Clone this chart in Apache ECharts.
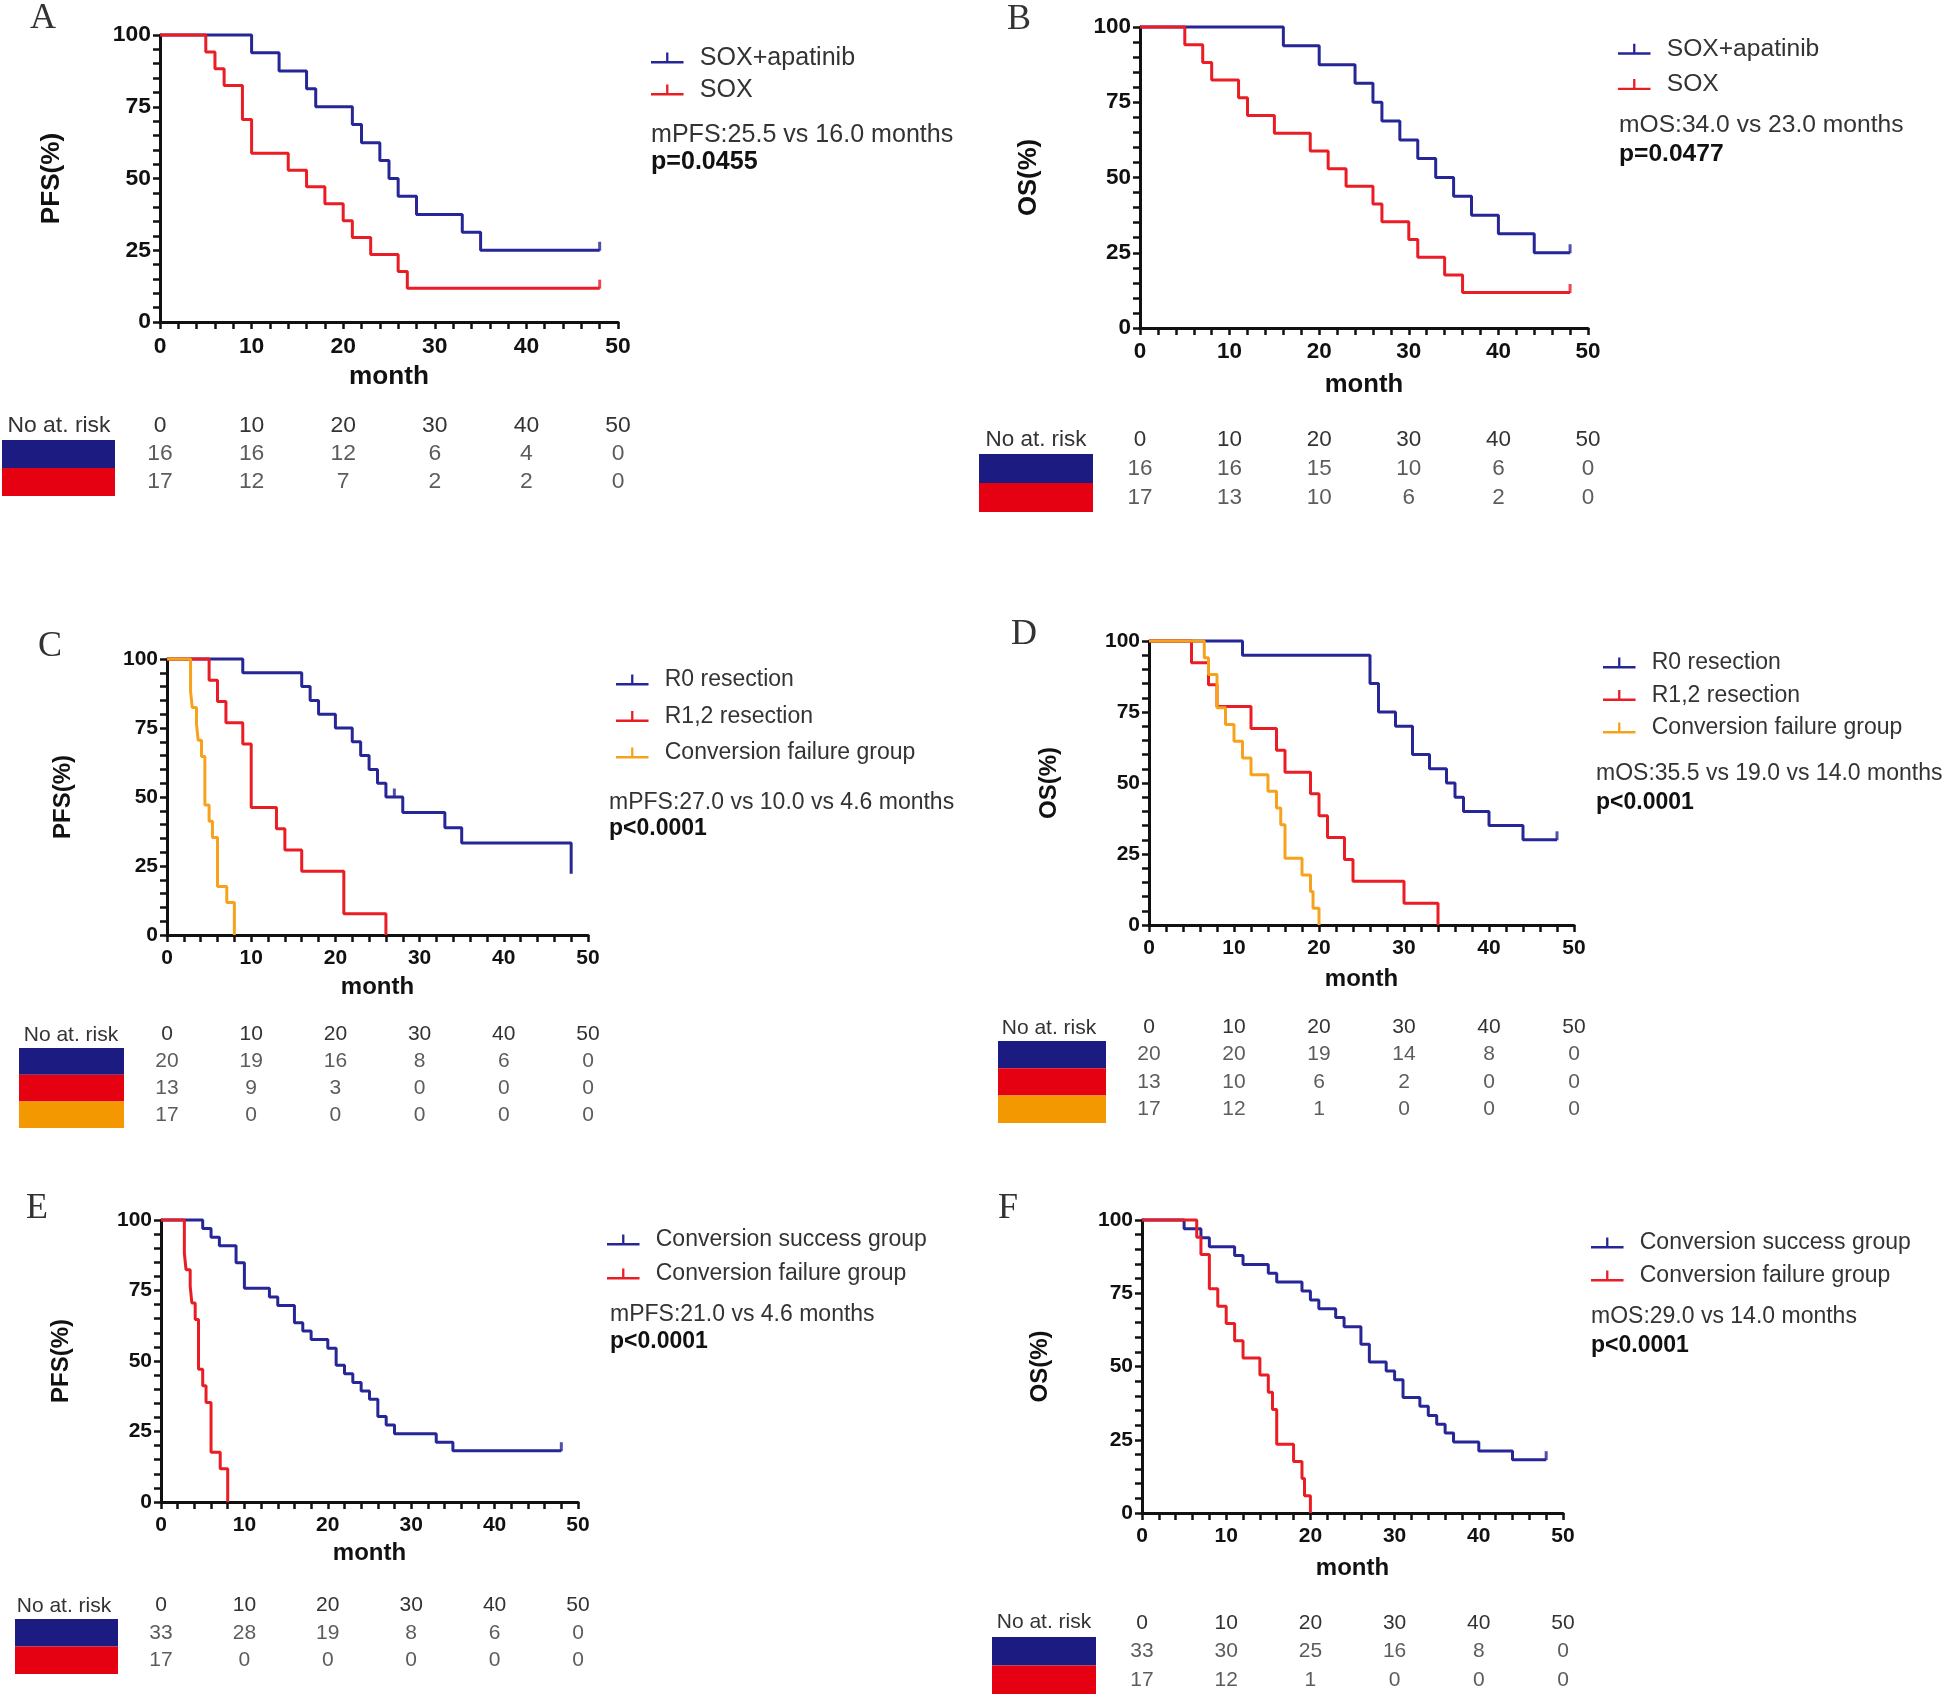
<!DOCTYPE html>
<html>
<head>
<meta charset="utf-8">
<script src="https://cdn.jsdelivr.net/npm/echarts@6/dist/echarts.min.js"></script>
<style>
  html, body { margin: 0; padding: 0; background: #fff; }
  #chart { width: 1944px; height: 1695px; }
</style>
</head>
<body>
<div id="chart"></div>
<script>
// time points of the "No at. risk" tables (same as axis ticks)
const riskMonths = [0, 10, 20, 30, 40, 50];

// Kaplan-Meier curves, [month, survival %]
const pfsSoxApatinib = [[0,100],[10,93.8],[13,87.5],[16,81.3],[17,75],[21,68.8],[22,62.5],[24,56.3],[25,50],[26,43.8],[28,37.5],[33,31.3],[35,25],[48,25]];
const pfsSox = [[0,100],[5,94.1],[6,88.2],[7,82.4],[9,70.6],[10,58.8],[14,52.9],[16,47.1],[18,41.2],[20,35.3],[21,29.4],[23,23.5],[26,17.6],[27,11.8],[48,11.8]];
const osSoxApatinib = [[0,100],[16,93.8],[20,87.5],[24,81.3],[26,75],[27,68.8],[29,62.5],[31,56.3],[33,50],[35,43.8],[37,37.5],[40,31.3],[44,25],[48,25]];
const osSox = [[0,100],[5,94.1],[7,88.2],[8,82.4],[11,76.5],[12,70.6],[15,64.7],[19,58.8],[21,52.9],[23,47.1],[26,41.2],[27,35.3],[30,29.4],[31,23.5],[34,17.6],[36,11.8],[48,11.8]];
const pfsR0 = [[0,100],[9,95],[16,90],[17,85],[18,80],[20,75],[22,70],[23,65],[24,60],[25,55],[26,50],[28,44.4],[33,38.9],[35,33.3],[48,33.3],[48,22.2]];
const pfsR12 = [[0,100],[5,92.3],[6,84.6],[7,76.9],[9,69.2],[10,46.2],[13,38.5],[14,30.8],[16,23.1],[21,7.7],[26,0]];
const pfsFailure = [[0,100],[2.8,88.2],[3,82.4],[3.5,76.5],[3.7,70.6],[4.1,64.7],[4.5,47.1],[5,41.2],[5.4,35.3],[6,17.6],[7.1,11.8],[8,0]];
const osR0 = [[0,100],[11,95],[26,85],[27,75],[29,70],[31,60],[33,55],[35,50],[36,45],[37,40],[40,35],[44,30],[48,30]];
const osR12 = [[0,100],[5,92.3],[7,84.6],[8,76.9],[12,69.2],[15,61.5],[16,53.8],[19,46.2],[20,38.5],[21,30.8],[23,23.1],[24,15.4],[30,7.7],[34,0]];
const osFailure = [[0,100],[6.5,94.1],[7,88.2],[8,76.5],[9,70.6],[10,64.7],[11,58.8],[12,52.9],[14,47.1],[15,41.2],[15.5,35.3],[16,23.5],[18,17.6],[19,11.8],[19.3,5.9],[20,0]];
const pfsSuccess = [[0,100],[5,97],[6,93.9],[7,90.9],[9,84.8],[10,75.8],[13,72.7],[14,69.7],[16,63.6],[17,60.6],[18,57.6],[20,54.5],[21,48.5],[22,45.5],[23,42.4],[24,39.4],[25,36.4],[26,30.3],[27,27.3],[28,24.2],[33,21.2],[35,18.2],[48,18.2]];
const osSuccess = [[0,100],[5,97],[7,93.9],[8,90.9],[11,87.9],[12,84.8],[15,81.8],[16,78.8],[19,75.8],[20,72.7],[21,69.7],[23,66.7],[24,63.6],[26,57.6],[27,51.5],[29,48.5],[30,45.5],[31,39.4],[33,36.4],[34,33.3],[35,30.3],[36,27.3],[37,24.2],[40,21.2],[44,18.2],[48,18.2]];

// censored marks
const censorPfsSoxApatinib = [[48,25]];
const censorPfsSox = [[48,11.8]];
const censorOsSoxApatinib = [[48,25]];
const censorOsSox = [[48,11.8]];
const censorPfsR0 = [[27,50]];
const censorOsR0 = [[48,30]];
const censorPfsSuccess = [[48,18.2]];
const censorOsSuccess = [[48,18.2]];

// numbers at risk
const riskPfsSoxApatinib = [16,16,12,6,4,0];
const riskPfsSox = [17,12,7,2,2,0];
const riskOsSoxApatinib = [16,16,15,10,6,0];
const riskOsSox = [17,13,10,6,2,0];
const riskPfsR0 = [20,19,16,8,6,0];
const riskPfsR12 = [13,9,3,0,0,0];
const riskPfsFailure = [17,0,0,0,0,0];
const riskOsR0 = [20,20,19,14,8,0];
const riskOsR12 = [13,10,6,2,0,0];
const riskOsFailure = [17,12,1,0,0,0];
const riskPfsSuccess = [33,28,19,8,6,0];
const riskOsSuccess = [33,30,25,16,8,0];

// median / p value notes
const statsA = ['mPFS:25.5 vs 16.0 months', 'p=0.0455'];
const statsB = ['mOS:34.0 vs 23.0 months', 'p=0.0477'];
const statsC = ['mPFS:27.0 vs 10.0 vs 4.6 months', 'p<0.0001'];
const statsD = ['mOS:35.5 vs 19.0 vs 14.0 months', 'p<0.0001'];
const statsE = ['mPFS:21.0 vs 4.6 months', 'p<0.0001'];
const statsF = ['mOS:29.0 vs 14.0 months', 'p<0.0001'];

const FONT = '"Liberation Sans", Arial, sans-serif';
const BLUE = { line: '#262696', block: '#1c1b82' };
const RED = { line: '#ea1c24', block: '#e50012' };
const ORANGE = { line: '#f6a21c', block: '#f39800' };
const ICON = 'path://M0,9L34,9L34,11.5L0,11.5Z M15.8,0L18.2,0L18.2,9L15.8,9Z';

// fs: text scale of the panel (top row panels are printed a bit larger)
const panels = [
  {
    letter: 'A', letterPos: [43, 19], yName: 'PFS(%)', fs: 1.09,
    grid: { left: 160, top: 35, width: 458, height: 287 }, xGap: 42, yGap: 95,
    curves: [
      { name: 'SOX+apatinib', data: pfsSoxApatinib, censor: censorPfsSoxApatinib, risk: riskPfsSoxApatinib, c: BLUE },
      { name: 'SOX', data: pfsSox, censor: censorPfsSox, risk: riskPfsSox, c: RED }
    ],
    legend: { left: 651, top: 45.5, gap: 7 },
    stats: statsA, statsPos: [651, 135.5, 162.5],
    risk: { top: 440, rowH: 28, blockW: 113, margin: 45, label: [59, 426] }
  },
  {
    letter: 'B', letterPos: [1019, 20], yName: 'OS(%)', fs: 1.07,
    grid: { left: 1140, top: 27, width: 448, height: 301 }, xGap: 44, yGap: 98,
    curves: [
      { name: 'SOX+apatinib', data: osSoxApatinib, censor: censorOsSoxApatinib, risk: riskOsSoxApatinib, c: BLUE },
      { name: 'SOX', data: osSox, censor: censorOsSox, risk: riskOsSox, c: RED }
    ],
    legend: { left: 1618, top: 36.7, gap: 10.4 },
    stats: statsB, statsPos: [1619, 125.5, 154.5],
    risk: { top: 454, rowH: 29, blockW: 114, margin: 47, label: [1036, 440] }
  },
  {
    letter: 'C', letterPos: [50, 647], yName: 'PFS(%)', fs: 1,
    grid: { left: 167, top: 659, width: 421, height: 276 }, xGap: 40, yGap: 92,
    curves: [
      { name: 'R0 resection', data: pfsR0, censor: censorPfsR0, risk: riskPfsR0, c: BLUE },
      { name: 'R1,2 resection', data: pfsR12, censor: [], risk: riskPfsR12, c: RED },
      { name: 'Conversion failure group', data: pfsFailure, censor: [], risk: riskPfsFailure, c: ORANGE }
    ],
    legend: { left: 616, top: 668.5, gap: 13.5 },
    stats: statsC, statsPos: [609, 802.5, 828.5],
    risk: { top: 1048, rowH: 26.7, blockW: 105, margin: 43, label: [71, 1035] }
  },
  {
    letter: 'D', letterPos: [1024, 635], yName: 'OS(%)', fs: 1,
    grid: { left: 1149, top: 641, width: 425, height: 284 }, xGap: 42, yGap: 88,
    curves: [
      { name: 'R0 resection', data: osR0, censor: censorOsR0, risk: riskOsR0, c: BLUE },
      { name: 'R1,2 resection', data: osR12, censor: [], risk: riskOsR12, c: RED },
      { name: 'Conversion failure group', data: osFailure, censor: [], risk: riskOsFailure, c: ORANGE }
    ],
    legend: { left: 1603, top: 651.5, gap: 9.5 },
    stats: statsD, statsPos: [1596, 773.5, 802.5],
    risk: { top: 1041, rowH: 27.3, blockW: 108, margin: 43, label: [1049, 1028] }
  },
  {
    letter: 'E', letterPos: [37, 1209], yName: 'PFS(%)', fs: 1,
    grid: { left: 161, top: 1220, width: 417, height: 282 }, xGap: 39, yGap: 88,
    curves: [
      { name: 'Conversion success group', data: pfsSuccess, censor: censorPfsSuccess, risk: riskPfsSuccess, c: BLUE },
      { name: 'Conversion failure group', data: pfsFailure, censor: [], risk: riskPfsFailure, c: RED }
    ],
    legend: { left: 607, top: 1228.5, gap: 11 },
    stats: statsE, statsPos: [610, 1314.5, 1341.5],
    risk: { top: 1619, rowH: 27.5, blockW: 103, margin: 43, label: [64, 1606] }
  },
  {
    letter: 'F', letterPos: [1008, 1209], yName: 'OS(%)', fs: 1,
    grid: { left: 1142, top: 1220, width: 421, height: 293 }, xGap: 43, yGap: 90,
    curves: [
      { name: 'Conversion success group', data: osSuccess, censor: censorOsSuccess, risk: riskOsSuccess, c: BLUE },
      { name: 'Conversion failure group', data: osFailure, censor: [], risk: riskOsFailure, c: RED }
    ],
    legend: { left: 1591, top: 1231.5, gap: 10 },
    stats: statsF, statsPos: [1591, 1316.5, 1345.5],
    risk: { top: 1637, rowH: 28.5, blockW: 104, margin: 46, label: [1044, 1622] }
  }
];

const grid = [], xAxis = [], yAxis = [], series = [], legend = [], graphic = [];

panels.forEach(p => {
  const f = p.fs;
  // survival plot: ticks every 2 months / 5 %, labels every 10 months / 25 %
  const gi = grid.length;
  grid.push(Object.assign({ outerBoundsMode: 'none' }, p.grid));
  const axisLine = { lineStyle: { color: '#111', width: 3 } };
  const axisTick = { length: 7, lineStyle: { color: '#111', width: 2.5 } };
  const nameStyle = { fontSize: 24 * f, fontWeight: 'bold', color: '#111' };
  const tickLabel = { fontSize: 21 * f, fontWeight: 'bold', color: '#111' };
  xAxis.push({
    gridIndex: gi, type: 'value', min: 0, max: 50, interval: 2,
    name: 'month', nameLocation: 'middle', nameGap: p.xGap, nameTextStyle: nameStyle,
    axisLine, axisTick, splitLine: { show: false },
    axisLabel: Object.assign({ margin: 13, formatter: v => (v % 10 === 0 ? v : '') }, tickLabel)
  });
  yAxis.push({
    gridIndex: gi, type: 'value', min: 0, max: 100, interval: 5,
    name: p.yName, nameLocation: 'middle', nameGap: p.yGap, nameTextStyle: nameStyle,
    axisLine, axisTick, splitLine: { show: false },
    axisLabel: Object.assign({ margin: 9, formatter: v => (v % 25 === 0 ? v : '') }, tickLabel)
  });
  p.curves.forEach(c => {
    series.push({
      type: 'line', name: c.name, xAxisIndex: gi, yAxisIndex: gi, data: c.data,
      step: 'end', symbol: 'none', clip: false, silent: true,
      lineStyle: { color: c.c.line, width: 3 }, itemStyle: { color: c.c.line }
    });
    if (c.censor.length) {
      series.push({
        type: 'scatter', name: 'censored', xAxisIndex: gi, yAxisIndex: gi, data: c.censor,
        symbol: 'rect', symbolSize: [3, 9], symbolOffset: [0, -4], silent: true,
        itemStyle: { color: c.c.line }
      });
    }
  });

  // number at risk table, on its own grid sharing the month scale
  const r = p.risk;
  const ri = grid.length;
  grid.push({ outerBoundsMode: 'none', left: p.grid.left, width: p.grid.width, top: r.top, height: r.rowH * p.curves.length });
  xAxis.push({
    gridIndex: ri, type: 'value', min: 0, max: 50, interval: 10, position: 'top',
    axisLine: { show: false }, axisTick: { show: false }, splitLine: { show: false },
    axisLabel: { fontSize: 21 * f, color: '#333', margin: 3 }
  });
  const rich = {};
  p.curves.forEach((c, i) => { rich['c' + i] = { backgroundColor: c.c.block, width: r.blockW, height: r.rowH }; });
  yAxis.push({
    gridIndex: ri, type: 'category', inverse: true, data: p.curves.map(c => c.name),
    axisLine: { show: false }, axisTick: { show: false }, splitLine: { show: false },
    axisLabel: { interval: 0, margin: r.margin, formatter: (v, i) => '{c' + i + '|}', rich }
  });
  series.push({
    type: 'scatter', name: 'at risk', xAxisIndex: ri, yAxisIndex: ri, silent: true,
    data: p.curves.flatMap((c, i) => c.risk.map((n, j) => [riskMonths[j], i, n])),
    symbolSize: 1, itemStyle: { color: 'rgba(0,0,0,0)' },
    label: { show: true, position: 'inside', formatter: q => q.value[2], fontSize: 21 * f, color: '#333' }
  });

  legend.push({
    orient: 'vertical', left: p.legend.left, top: p.legend.top, itemGap: p.legend.gap,
    itemWidth: 33, itemHeight: 11, padding: 0, selectedMode: false,
    data: p.curves.map(c => ({ name: c.name, icon: ICON, itemStyle: { color: c.c.line, borderWidth: 0 } })),
    textStyle: { fontSize: 23 * f, color: '#333', padding: [0, 0, 0, 11] }
  });

  graphic.push({
    type: 'text', x: p.letterPos[0], y: p.letterPos[1],
    style: { text: p.letter, fontSize: 36, fontFamily: '"Liberation Serif", "Times New Roman", serif', fill: '#333',
      align: 'center', verticalAlign: 'middle', textAlign: 'center', textVerticalAlign: 'middle' }
  });
  graphic.push({
    type: 'text', x: r.label[0], y: r.label[1],
    style: { text: 'No at. risk', fontSize: 21 * f, fontFamily: FONT, fill: '#333',
      align: 'center', verticalAlign: 'middle', textAlign: 'center', textVerticalAlign: 'middle' }
  });
  p.stats.forEach((s, i) => {
    graphic.push({
      type: 'text', x: p.statsPos[0], y: p.statsPos[i + 1],
      style: { text: s, fontSize: 23 * f, fontFamily: FONT, fontWeight: i ? 'bold' : 'normal', fill: i ? '#111' : '#333',
        align: 'left', verticalAlign: 'middle', textAlign: 'left', textVerticalAlign: 'middle' }
    });
  });
});

const chart = echarts.init(document.getElementById('chart'));
chart.setOption({
  animation: false,
  backgroundColor: '#fff',
  textStyle: { fontFamily: FONT },
  grid, xAxis, yAxis, series, legend, graphic
});
</script>
</body>
</html>
